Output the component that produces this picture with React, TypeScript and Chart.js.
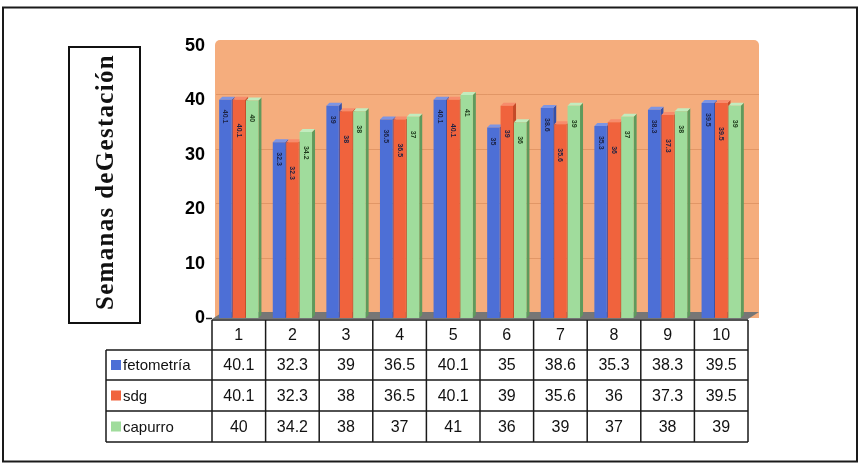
import React, { useEffect, useRef } from "react";
import { Chart, registerables } from "chart.js";

Chart.register(...registerables);

// ---------- data ----------
const categories = ["1", "2", "3", "4", "5", "6", "7", "8", "9", "10"];
const seriesNames = ["fetometría", "sdg", "capurro"];
const fetometria = [40.1, 32.3, 39, 36.5, 40.1, 35, 38.6, 35.3, 38.3, 39.5];
const sdg = [40.1, 32.3, 38, 36.5, 40.1, 39, 35.6, 36, 37.3, 39.5];
const capurro = [40, 34.2, 38, 37, 41, 36, 39, 37, 38, 39];
const yTicks = [0, 10, 20, 30, 40, 50];
const yTitle = "Semanas deGestación";

// ---------- styles ----------
const FRONT = ["#4d6fd6", "#f0633d", "#a0dc9c"];
const SIDE = ["#3450a8", "#c44a28", "#5f9a5c"];
const TOP = ["#7d95e4", "#f78c6c", "#c2ecbe"];
const WALL = "#f5ad7d";
const DX = 3;
const DY = 3;
const WDX = 11;
const WDY = 6;
const FONT = "'Liberation Sans', Arial, sans-serif";

const seriesData = [fetometria, sdg, capurro];

const backgroundPlugin = {
  id: "bg3d",
  beforeDraw(chart: any) {
    const ctx = chart.ctx;
    const { left, right, top, bottom } = chart.chartArea;
    const yS = chart.scales.y;
    ctx.save();
    ctx.fillStyle = "#ffffff";
    ctx.fillRect(0, 0, chart.width, chart.height);
    // outer frame
    ctx.strokeStyle = "#1a1a1a";
    ctx.lineWidth = 2;
    ctx.strokeRect(3, 7.5, 854, 454);
    // back wall
    ctx.fillStyle = WALL;
    ctx.beginPath();
    (ctx as any).roundRect(left + 3, top - WDY, right - left + WDX - 3, bottom - top + WDY, [5, 5, 0, 0]);
    ctx.fill();
    // wall gridlines
    ctx.strokeStyle = "rgba(190,110,60,0.35)";
    ctx.lineWidth = 1;
    yTicks.slice(1, -1).forEach((v) => {
      const py = Math.round(yS.getPixelForValue(v) - WDY) + 0.5;
      ctx.beginPath();
      ctx.moveTo(left + 4, py);
      ctx.lineTo(right + WDX, py);
      ctx.stroke();
    });
    // floor
    ctx.fillStyle = "#767676";
    ctx.beginPath();
    ctx.moveTo(left, bottom + 1);
    ctx.lineTo(left + WDX, bottom - WDY);
    ctx.lineTo(right + WDX, bottom - WDY);
    ctx.lineTo(right, bottom + 1);
    ctx.closePath();
    ctx.fill();
    // zero tick
    ctx.strokeStyle = "#222";
    ctx.lineWidth = 1.5;
    ctx.beginPath();
    ctx.moveTo(left - 6, bottom + 0.5);
    ctx.lineTo(left, bottom + 0.5);
    ctx.stroke();
    // y title box
    ctx.strokeStyle = "#111";
    ctx.lineWidth = 2;
    ctx.strokeRect(69, 47, 71, 276);
    ctx.fillStyle = "#111";
    ctx.font = "bold 25px 'Liberation Serif', 'Times New Roman', serif";
    ctx.textAlign = "center";
    ctx.textBaseline = "middle";
    const w = ctx.measureText(yTitle).width;
    const target = 256;
    if ("letterSpacing" in ctx) {
      (ctx as any).letterSpacing = Math.max(0, (target - w) / yTitle.length) + "px";
    }
    ctx.translate(107, 182);
    ctx.rotate(-Math.PI / 2);
    ctx.fillText(yTitle, 0, 0);
    ctx.restore();
  },
};

const depthPlugin = {
  id: "depth3d",
  beforeDatasetsDraw(chart: any) {
    const ctx = chart.ctx;
    ctx.save();
    chart.data.datasets.forEach((_ds: any, di: number) => {
      const meta = chart.getDatasetMeta(di);
      meta.data.forEach((el: any) => {
        const { x, y, width, base } = el.getProps(["x", "y", "width", "base"], true);
        const l = x - width / 2;
        const r = x + width / 2;
        ctx.fillStyle = SIDE[di];
        ctx.beginPath();
        ctx.moveTo(r, y);
        ctx.lineTo(r + DX, y - DY);
        ctx.lineTo(r + DX, base - DY);
        ctx.lineTo(r, base);
        ctx.closePath();
        ctx.fill();
        ctx.fillStyle = TOP[di];
        ctx.beginPath();
        ctx.moveTo(l, y);
        ctx.lineTo(l + DX, y - DY);
        ctx.lineTo(r + DX, y - DY);
        ctx.lineTo(r, y);
        ctx.closePath();
        ctx.fill();
      });
    });
    ctx.restore();
  },
  afterDatasetsDraw(chart: any) {
    const ctx = chart.ctx;
    const offsets = [10, 24, 14];
    ctx.save();
    ctx.font = `bold 7px ${FONT}`;
    ctx.textAlign = "left";
    ctx.textBaseline = "middle";
    chart.data.datasets.forEach((ds: any, di: number) => {
      const meta = chart.getDatasetMeta(di);
      meta.data.forEach((el: any, i: number) => {
        const { x, y } = el.getProps(["x", "y"], true);
        ctx.fillStyle = di === 2 ? "#1f3a1c" : "#1c2244";
        ctx.save();
        ctx.translate(x, y + offsets[di]);
        ctx.rotate(Math.PI / 2);
        ctx.fillText(String(ds.data[i]), 0, 0);
        ctx.restore();
      });
    });
    ctx.restore();
  },
};

const tablePlugin = {
  id: "dataTable",
  afterDraw(chart: any) {
    const ctx = chart.ctx;
    const xS = chart.scales.x;
    const { left, right, bottom } = chart.chartArea;
    const cw = (right - left) / categories.length;
    const rows = [bottom + 2, bottom + 32, bottom + 62, bottom + 93, bottom + 124];
    const legendLeft = 106;
    ctx.save();
    ctx.strokeStyle = "#1a1a1a";
    ctx.lineWidth = 1.5;
    ctx.beginPath();
    ctx.moveTo(left, rows[0]);
    ctx.lineTo(right, rows[0]);
    for (let r = 1; r < rows.length; r++) {
      ctx.moveTo(legendLeft, rows[r]);
      ctx.lineTo(right, rows[r]);
    }
    for (let i = 0; i <= categories.length; i++) {
      const px = left + i * cw;
      ctx.moveTo(px, rows[0]);
      ctx.lineTo(px, rows[4]);
    }
    ctx.moveTo(legendLeft, rows[1]);
    ctx.lineTo(legendLeft, rows[4]);
    ctx.stroke();

    ctx.fillStyle = "#111";
    ctx.font = `16px ${FONT}`;
    ctx.textAlign = "center";
    ctx.textBaseline = "middle";
    categories.forEach((c, i) => {
      const px = xS.getPixelForValue(i);
      ctx.fillText(c, px, (rows[0] + rows[1]) / 2 + 1);
      seriesData.forEach((arr, si) => {
        ctx.fillText(String(arr[i]), px, (rows[si + 1] + rows[si + 2]) / 2 + 1);
      });
    });
    ctx.textAlign = "left";
    seriesNames.forEach((n, si) => {
      const cy = (rows[si + 1] + rows[si + 2]) / 2;
      ctx.fillStyle = FRONT[si];
      ctx.fillRect(legendLeft + 5, cy - 5, 10, 10);
      ctx.fillStyle = "#111";
      ctx.font = `15px ${FONT}`;
      ctx.fillText(n, legendLeft + 17, cy + 1);
    });
    ctx.restore();
  },
};

export default function App() {
  const ref = useRef<HTMLCanvasElement | null>(null);

  useEffect(() => {
    document.body.style.margin = "0";
    const canvas = ref.current;
    if (!canvas) return;
    const chart = new Chart(canvas, {
      type: "bar",
      data: {
        labels: categories,
        datasets: seriesNames.map((n, i) => ({
          label: n,
          data: seriesData[i],
          backgroundColor: FRONT[i],
          borderWidth: 0,
          categoryPercentage: 0.75,
          barPercentage: 0.93,
        })),
      },
      options: {
        responsive: false,
        animation: false,
        devicePixelRatio: 1,
        layout: { padding: { left: 172, right: 112, top: 46, bottom: 145 } },
        plugins: {
          legend: { display: false },
          tooltip: { enabled: false },
          title: { display: false },
        },
        scales: {
          x: { display: false },
          y: {
            min: 0,
            max: 50,
            afterFit: (s: any) => {
              s.width = 40;
            },
            afterBuildTicks: (s: any) => {
              s.ticks = yTicks.map((v) => ({ value: v }));
            },
            grid: { display: false, drawTicks: false },
            border: { display: false },
            ticks: {
              padding: 7,
              color: "#000",
              font: { family: FONT, size: 18, weight: "bold" },
            },
          },
        },
      },
      plugins: [backgroundPlugin, depthPlugin, tablePlugin],
    });
    return () => chart.destroy();
  }, []);

  return (
    <div style={{ position: "absolute", left: 0, top: 0, width: 860, height: 463 }}>
      <canvas ref={ref} width={860} height={463} style={{ display: "block" }} />
    </div>
  );
}
